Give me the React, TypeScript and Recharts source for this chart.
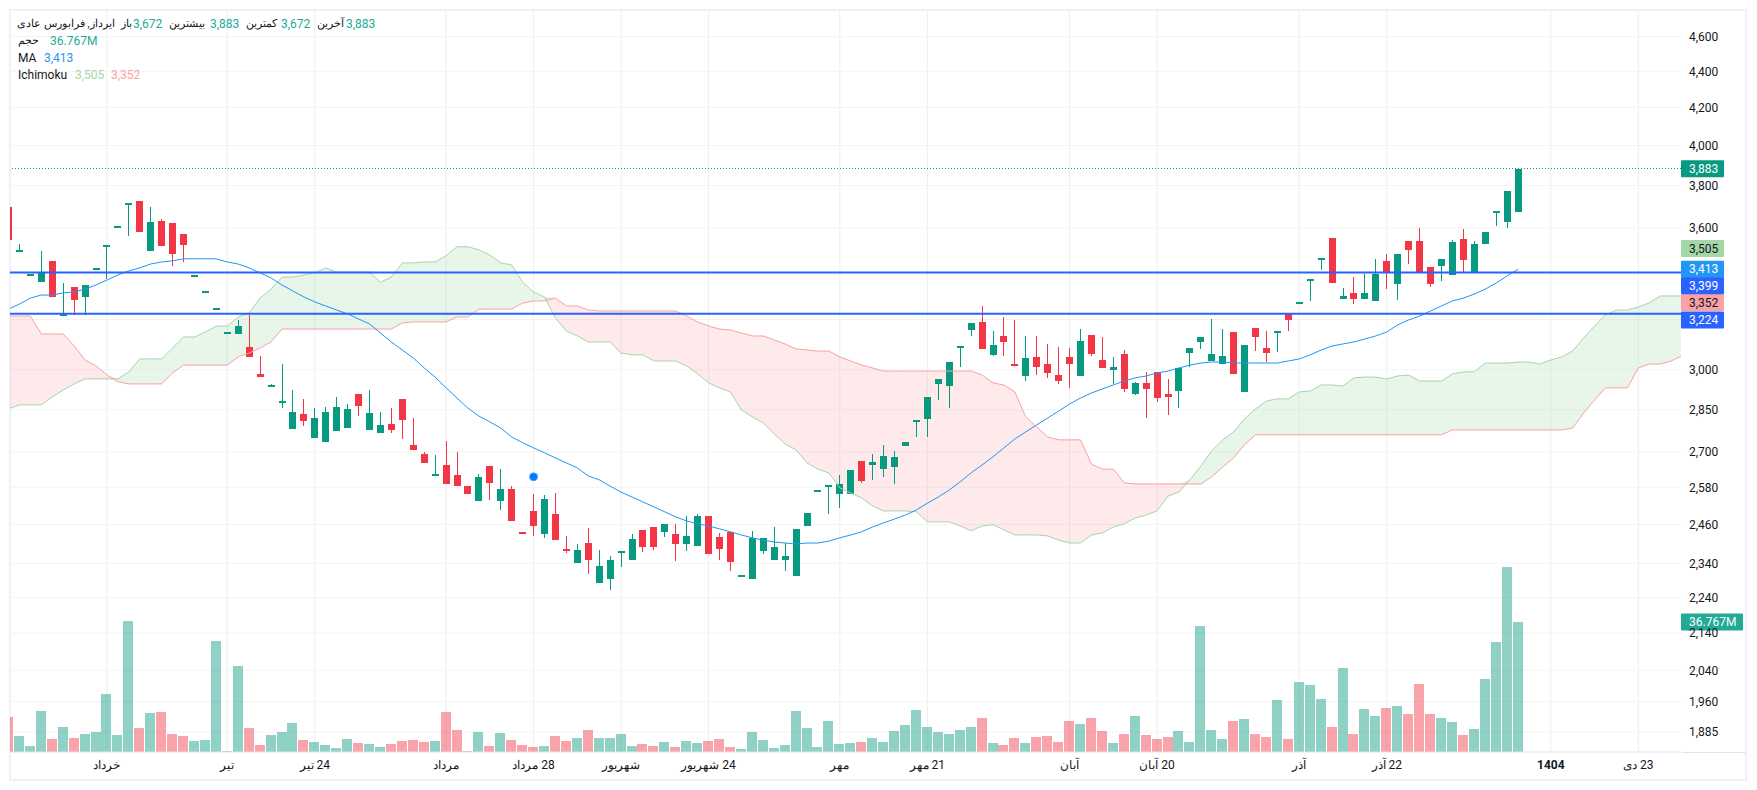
import { Area, Bar, CartesianGrid, ComposedChart, Line, ReferenceDot, ReferenceLine, XAxis, YAxis } from 'recharts';

const opens = [
  3696, 3497, 3392, 3359, 3450, 3219, 3336, 3295, 3416, 3519,
  3605, 3713, 3725, 3495, 3630, 3621, 3571, 3386, 3316, 3245,
  3147, 3141, 3089, 2984, 2940, 2880, 2781, 2835, 2749, 2735,
  2774, 2784, 2908, 2777, 2767, 2799, 2890, 2725, 2693, 2621,
  2655, 2621, 2584, 2535, 2651, 2535, 2575, 2437, 2503, 2430,
  2493, 2384, 2341, 2402, 2282, 2294, 2374, 2350, 2443, 2452,
  2437, 2430, 2399, 2393, 2487, 2421, 2437, 2304, 2294, 2378,
  2350, 2350, 2302, 2455, 2570, 2587, 2558, 2558, 2669, 2655,
  2641, 2648, 2721, 2811, 2817, 2946, 2938, 3091, 3157, 3190,
  3058, 3133, 3022, 2976, 3050, 3022, 2980, 3050, 2976, 3137,
  3038, 2999, 3061, 2908, 2950, 2992, 2908, 2919, 3065, 3109,
  3034, 3022, 3149, 2916, 3165, 3085, 3152, 3227, 3270, 3368,
  3461, 3553, 3285, 3311, 3285, 3277, 3450, 3349, 3539, 3539,
  3423, 3428, 3387, 3548, 3401, 3526, 3675, 3626, 3672,
];
const closes = [
  3544, 3499, 3394, 3398, 3295, 3221, 3281, 3345, 3418, 3521,
  3607, 3715, 3580, 3626, 3517, 3481, 3521, 3388, 3318, 3247,
  3149, 3173, 3050, 2972, 2942, 2882, 2842, 2809, 2820, 2842,
  2860, 2853, 2864, 2838, 2795, 2777, 2813, 2707, 2662, 2623,
  2591, 2584, 2558, 2615, 2595, 2575, 2471, 2430, 2455, 2541,
  2411, 2378, 2381, 2350, 2332, 2350, 2376, 2414, 2390, 2390,
  2462, 2399, 2424, 2487, 2369, 2384, 2344, 2306, 2418, 2418,
  2390, 2362, 2446, 2496, 2572, 2589, 2591, 2638, 2601, 2665,
  2686, 2683, 2735, 2813, 2897, 2965, 3030, 3093, 3186, 3081,
  3097, 3109, 3020, 3046, 3011, 2988, 2957, 3022, 3113, 3061,
  3007, 3011, 2927, 2950, 2927, 2893, 2897, 3007, 3085, 3129,
  3061, 3054, 2984, 3097, 3129, 3065, 3154, 3198, 3272, 3370,
  3463, 3353, 3298, 3285, 3311, 3392, 3397, 3481, 3499, 3401,
  3349, 3459, 3535, 3454, 3526, 3580, 3677, 3773, 3883,
];
const highs = [
  3696, 3526, 3394, 3495, 3450, 3352, 3336, 3345, 3418, 3521,
  3607, 3715, 3725, 3696, 3640, 3621, 3571, 3388, 3318, 3247,
  3149, 3198, 3219, 3054, 2946, 3022, 2923, 2890, 2856, 2860,
  2897, 2871, 2908, 2923, 2842, 2856, 2890, 2820, 2700, 2690,
  2739, 2700, 2584, 2625, 2651, 2641, 2584, 2437, 2558, 2555,
  2561, 2424, 2399, 2449, 2381, 2362, 2376, 2430, 2443, 2452,
  2462, 2462, 2487, 2493, 2487, 2433, 2437, 2306, 2440, 2418,
  2452, 2402, 2446, 2496, 2572, 2589, 2621, 2638, 2669, 2693,
  2725, 2704, 2735, 2813, 2897, 2965, 3030, 3093, 3186, 3256,
  3153, 3210, 3198, 3133, 3133, 3101, 3089, 3085, 3161, 3137,
  3129, 3050, 3077, 2954, 2992, 2992, 2965, 3007, 3085, 3129,
  3202, 3161, 3149, 3097, 3165, 3153, 3154, 3227, 3272, 3370,
  3463, 3553, 3332, 3379, 3392, 3459, 3481, 3481, 3539, 3598,
  3423, 3459, 3544, 3594, 3539, 3580, 3677, 3773, 3883,
];
const lows = [
  3544, 3497, 3392, 3359, 3295, 3219, 3219, 3219, 3416, 3372,
  3605, 3563, 3580, 3495, 3517, 3429, 3447, 3386, 3316, 3245,
  3147, 3141, 3050, 2972, 2940, 2856, 2781, 2791, 2749, 2735,
  2774, 2784, 2827, 2777, 2767, 2767, 2745, 2707, 2662, 2621,
  2591, 2584, 2558, 2535, 2538, 2506, 2471, 2430, 2424, 2418,
  2411, 2372, 2341, 2308, 2282, 2262, 2329, 2350, 2375, 2381,
  2421, 2347, 2378, 2393, 2369, 2350, 2317, 2304, 2294, 2369,
  2350, 2317, 2302, 2455, 2570, 2493, 2512, 2558, 2595, 2605,
  2615, 2591, 2721, 2752, 2752, 2886, 2856, 3011, 3133, 3081,
  3054, 3054, 3020, 2957, 2980, 2969, 2946, 2931, 2976, 3054,
  3007, 2946, 2916, 2905, 2820, 2878, 2831, 2856, 3011, 3081,
  3034, 3022, 2984, 2916, 3073, 3030, 3069, 3153, 3270, 3277,
  3410, 3353, 3285, 3264, 3285, 3277, 3327, 3281, 3436, 3401,
  3336, 3362, 3387, 3401, 3401, 3526, 3608, 3598, 3672,
];
// volume in millions
const volumes = [
  10.0, 4.6, 1.8, 11.7, 3.8, 7.2, 4.0, 5.2, 5.7, 16.5,
  4.9, 37.1, 6.9, 11.1, 11.4, 5.2, 4.6, 3.2, 3.5, 31.5,
  0.4, 24.4, 6.9, 2.1, 4.9, 5.7, 8.3, 3.5, 2.9, 2.1,
  1.2, 3.8, 2.6, 2.3, 1.5, 2.3, 3.2, 3.5, 2.9, 3.2,
  11.4, 6.3, 0.4, 5.7, 1.8, 5.5, 3.5, 2.1, 1.5, 1.8,
  4.6, 3.2, 4.0, 6.3, 4.0, 4.0, 5.1, 1.7, 2.3, 1.7,
  2.8, 1.4, 3.1, 2.5, 3.1, 3.7, 1.4, 0.8, 5.7, 3.4,
  1.1, 2.0, 11.6, 6.8, 1.4, 8.8, 2.3, 2.5, 2.8, 4.0,
  2.8, 5.9, 7.6, 11.9, 7.1, 5.7, 5.1, 6.2, 7.1, 9.6,
  2.5, 2.0, 4.0, 2.5, 4.2, 4.5, 2.8, 8.8, 7.9, 9.6,
  5.9, 2.5, 5.1, 10.2, 4.8, 3.7, 4.2, 5.9, 2.8, 35.6,
  6.2, 3.7, 8.8, 9.3, 5.1, 4.2, 14.7, 3.7, 19.8, 18.9,
  15.0, 7.1, 23.8, 5.1, 12.2, 10.2, 12.4, 13.0, 10.7, 19.2,
  10.7, 9.6, 8.5, 4.8, 6.5, 20.6, 31.1, 52.3, 36.767,
];
const maValues = [
  3243, 3264, 3289, 3302, 3302, 3311, 3315, 3327, 3345, 3366,
  3388, 3406, 3419, 3436, 3445, 3450, 3459, 3459, 3459, 3459,
  3445, 3436, 3419, 3397, 3375, 3345, 3319, 3294, 3273, 3256,
  3239, 3223, 3202, 3182, 3145, 3109, 3077, 3046, 3007, 2972,
  2931, 2893, 2856, 2827, 2806, 2784, 2752, 2732, 2714, 2697,
  2679, 2662, 2645, 2618, 2605, 2584, 2564, 2548, 2532, 2516,
  2500, 2484, 2471, 2462, 2455, 2446, 2437, 2427, 2418, 2411,
  2405, 2402, 2399, 2402, 2402, 2408, 2418, 2427, 2437, 2452,
  2465, 2477, 2490, 2506, 2528, 2548, 2571, 2598, 2628, 2655,
  2683, 2714, 2745, 2770, 2795, 2820, 2845, 2871, 2893, 2912,
  2927, 2942, 2957, 2969, 2976, 2988, 2995, 3007, 3018, 3026,
  3030, 3030, 3026, 3026, 3026, 3026, 3026, 3034, 3042, 3058,
  3077, 3093, 3101, 3109, 3121, 3133, 3149, 3178, 3198, 3214,
  3235, 3256, 3277, 3289, 3306, 3327, 3353, 3384, 3413,
];
const spanA = [
  2853, 2868, 2868, 2868, 2897, 2923, 2946, 2965, 2965, 2965,
  2965, 2992, 3042, 3042, 3042, 3085, 3129, 3129, 3149, 3173,
  3173, 3210, 3227, 3289, 3327, 3379, 3379, 3388, 3397, 3419,
  3401, 3401, 3401, 3401, 3357, 3379, 3441, 3441, 3445, 3445,
  3472, 3513, 3513, 3499, 3476, 3441, 3432, 3357, 3315, 3294,
  3206, 3153, 3133, 3109, 3109, 3109, 3065, 3058, 3058, 3034,
  3034, 3034, 3015, 2984, 2950, 2931, 2916, 2849, 2824, 2802,
  2763, 2728, 2707, 2662, 2641, 2628, 2578, 2561, 2545, 2519,
  2503, 2503, 2503, 2500, 2468, 2468, 2468, 2455, 2440, 2455,
  2459, 2443, 2427, 2427, 2427, 2424, 2411, 2402, 2402, 2427,
  2433, 2452, 2462, 2480, 2490, 2503, 2551, 2564, 2605, 2651,
  2704, 2742, 2770, 2817, 2853, 2882, 2890, 2890, 2916, 2919,
  2942, 2942, 2938, 2969, 2972, 2972, 2965, 2976, 2980, 2957,
  2957, 2957, 2984, 2992, 2992, 3026, 3026, 3026, 3030, 3030,
  3022, 3038, 3050, 3073, 3125, 3173, 3219, 3239, 3239, 3252,
  3269, 3298, 3298, 3298,
];
const spanB = [
  3214, 3214, 3214, 3141, 3141, 3141, 3093, 3038, 3015, 2980,
  2954, 2946, 2946, 2946, 2946, 2988, 3018, 3018, 3018, 3018,
  3018, 3050, 3065, 3085, 3109, 3161, 3161, 3161, 3161, 3161,
  3161, 3161, 3161, 3161, 3161, 3161, 3186, 3190, 3190, 3190,
  3190, 3210, 3210, 3243, 3243, 3243, 3243, 3268, 3277, 3277,
  3289, 3256, 3256, 3239, 3235, 3235, 3235, 3235, 3235, 3235,
  3235, 3235, 3214, 3190, 3173, 3161, 3157, 3145, 3133, 3133,
  3117, 3101, 3081, 3077, 3073, 3073, 3050, 3034, 3018, 3007,
  2995, 2995, 2995, 2995, 2995, 2995, 2995, 2995, 2995, 2980,
  2950, 2942, 2916, 2824, 2788, 2752, 2742, 2742, 2742, 2658,
  2641, 2641, 2595, 2591, 2591, 2591, 2591, 2591, 2591, 2591,
  2615, 2648, 2679, 2725, 2760, 2760, 2760, 2760, 2760, 2760,
  2760, 2760, 2760, 2760, 2760, 2760, 2760, 2760, 2760, 2760,
  2760, 2760, 2777, 2777, 2777, 2777, 2777, 2777, 2777, 2777,
  2777, 2777, 2777, 2784, 2838, 2886, 2931, 2931, 2931, 3007,
  3022, 3022, 3034, 3054,
];

const priceTicks = [4600, 4400, 4200, 4000, 3800, 3600, 3400, 3200, 3000, 2850, 2700, 2580, 2460, 2340, 2240, 2140, 2040, 1960, 1885];
const coveredTicks = [3400, 3200]; // sit behind the price tags, only the grid line shows
const timeTicks = [9, 20, 28, 40, 48, 56, 64, 76, 84, 97, 105, 118, 126, 141, 149];
const timeLabels = ['خرداد', 'تیر', '24 تیر', 'مرداد', '28 مرداد', 'شهریور', '24 شهریور', 'مهر', '21 مهر', 'آبان', '20 آبان', 'آذر', '22 آذر', '1404', '23 دی'];

const UP = '#089981';
const DOWN = '#F23645';
const FONT = 'Roboto, sans-serif';
const X_DOMAIN = [0.135, 152.9];

const chartData = spanA.map((a, i) => {
  const b = spanB[i];
  const row: any = {
    i,
    a,
    b,
    greenCloud: [b, Math.max(a, b)],
    redCloud: [a, Math.max(a, b)],
  };
  if (i < opens.length) {
    row.ma = maValues[i];
    row.volume = volumes[i];
    row.wick = [lows[i], highs[i]];
    row.body = [Math.min(opens[i], closes[i]), Math.max(opens[i], closes[i])];
    row.up = closes[i] >= opens[i];
  }
  return row;
});

function CandlePart({ x, y, width, height, payload, minHeight }: any) {
  if (!payload || payload.up === undefined) return null;
  const h = Math.max(Math.abs(height), minHeight);
  return <rect x={x} y={Math.min(y, y + height)} width={width} height={h} fill={payload.up ? UP : DOWN} shapeRendering="crispEdges" />;
}

function VolumeBar({ x, y, width, height, payload }: any) {
  if (!payload || payload.up === undefined) return null;
  return <rect x={x} y={y} width={width} height={height} fill={payload.up ? UP : DOWN} fillOpacity={0.45} shapeRendering="crispEdges" />;
}

function TimeTick({ x, y, payload }: any) {
  const label = timeLabels[timeTicks.indexOf(payload.value)];
  return (
    <text x={x} y={y} dy={3} textAnchor="middle" direction="rtl" fill="#131722" fontSize={12} fontFamily={FONT} fontWeight={label === '1404' ? 700 : 400}>
      {label}
    </text>
  );
}

// price tags on the right axis, shifted by dy when they would overlap
const tag = (text: string, fill: string, color: string, dy = 0, width = 43) => ({ viewBox }: any) => {
  const left = viewBox.x + viewBox.width;
  const mid = viewBox.y + dy;
  return (
    <g>
      <rect x={left} y={mid - 8.5} width={width} height={17} rx={1} fill={fill} />
      <text x={left + 8} y={mid + 4} fill={color} fontSize={12} fontFamily={FONT}>{text}</text>
    </g>
  );
};

function LegendText({ left, top, color, size = 12, children }: any) {
  return (
    <span style={{ position: 'absolute', left, top, color, fontSize: size, lineHeight: '14px', fontFamily: FONT, whiteSpace: 'nowrap' }}>
      {children}
    </span>
  );
}

function ChartLegend() {
  return (
    <>
      <LegendText left={17} top={17} size={11} color="#131722">ایرداز, فرابورس عادی</LegendText>
      <LegendText left={121} top={17} size={11} color="#131722">باز</LegendText>
      <LegendText left={133} top={17} color="#22ab94">3,672</LegendText>
      <LegendText left={169} top={17} size={11} color="#131722">بیشترین</LegendText>
      <LegendText left={210} top={17} color="#22ab94">3,883</LegendText>
      <LegendText left={246} top={17} size={11} color="#131722">کمترین</LegendText>
      <LegendText left={281} top={17} color="#22ab94">3,672</LegendText>
      <LegendText left={317} top={17} size={11} color="#131722">آخرین</LegendText>
      <LegendText left={346} top={17} color="#22ab94">3,883</LegendText>
      <LegendText left={18} top={34} size={11} color="#131722">حجم</LegendText>
      <LegendText left={50} top={34} color="#22ab94">36.767M</LegendText>
      <LegendText left={18} top={51} color="#131722">MA</LegendText>
      <LegendText left={44} top={51} color="#2196f3">3,413</LegendText>
      <LegendText left={18} top={68} color="#131722">Ichimoku</LegendText>
      <LegendText left={75} top={68} color="#a5d6a7">3,505</LegendText>
      <LegendText left={111} top={68} color="#faa1a4">3,352</LegendText>
    </>
  );
}

export default function App() {
  return (
    <div style={{ position: 'absolute', left: 0, top: 0, width: 1757, height: 790, background: '#fff', overflow: 'hidden' }}>
      <div style={{ position: 'absolute', left: 9, top: 9, width: 1738, height: 772, boxSizing: 'border-box', border: '2px solid #f0f1f5' }} />
      <div style={{ position: 'absolute', left: 1682, top: 752, width: 64, height: 1, background: '#e0e3eb' }} />
      <div style={{ position: 'absolute', left: 0, top: 0 }}>
        <ComposedChart width={1757} height={790} data={chartData} margin={{ top: 11, right: 0, bottom: 0, left: 10 }} barGap={0}>
          <XAxis
            xAxisId="x"
            type="number"
            dataKey="i"
            domain={X_DOMAIN}
            allowDataOverflow
            ticks={timeTicks}
            interval={0}
            height={38}
            tick={<TimeTick />}
            tickLine={false}
            axisLine={{ stroke: '#e0e3eb' }}
            tickMargin={8}
          />
          <XAxis xAxisId="w" type="number" dataKey="i" domain={X_DOMAIN} allowDataOverflow hide height={0} />
          <XAxis xAxisId="v" type="number" dataKey="i" domain={X_DOMAIN} allowDataOverflow hide height={0} />
          <YAxis
            yAxisId="p"
            orientation="right"
            scale="log"
            domain={[1837, 4754]}
            allowDataOverflow
            ticks={priceTicks}
            interval={0}
            width={76}
            tickLine={false}
            axisLine={false}
            tickSize={0}
            tickMargin={8}
            tickFormatter={(v: number) => (coveredTicks.includes(v) ? '' : v.toLocaleString('en-US'))}
            tick={{ fill: '#131722', fontSize: 12, fontFamily: FONT }}
          />
          <YAxis yAxisId="v" domain={[0, 209.6]} allowDataOverflow hide />
          <CartesianGrid xAxisId="x" yAxisId="p" horizontal={false} syncWithTicks stroke="#eceef2" />
          <CartesianGrid xAxisId="x" yAxisId="p" vertical={false} syncWithTicks stroke="#f3f4f6" />

          <Bar xAxisId="v" yAxisId="v" dataKey="volume" barSize={10} isAnimationActive={false} shape={<VolumeBar />} />
          <Area xAxisId="x" yAxisId="p" dataKey="greenCloud" stroke="none" fill="#a5d6a7" fillOpacity={0.25} dot={false} activeDot={false} isAnimationActive={false} />
          <Area xAxisId="x" yAxisId="p" dataKey="redCloud" stroke="none" fill="#faa1a4" fillOpacity={0.22} dot={false} activeDot={false} isAnimationActive={false} />
          <Line xAxisId="x" yAxisId="p" dataKey="a" stroke="#a5d6a7" strokeWidth={1} dot={false} activeDot={false} isAnimationActive={false} />
          <Line xAxisId="x" yAxisId="p" dataKey="b" stroke="#faa1a4" strokeWidth={1} dot={false} activeDot={false} isAnimationActive={false} />
          <Line xAxisId="x" yAxisId="p" dataKey="ma" stroke="#2196f3" strokeWidth={1} dot={false} activeDot={false} isAnimationActive={false} />
          <Bar xAxisId="w" yAxisId="p" dataKey="wick" barSize={1} isAnimationActive={false} shape={<CandlePart minHeight={0} />} />
          <Bar xAxisId="x" yAxisId="p" dataKey="body" barSize={7} isAnimationActive={false} shape={<CandlePart minHeight={2} />} />

          <ReferenceDot xAxisId="x" yAxisId="p" x={48} y={2615} r={4} fill="#007bff" stroke="#4da3ff" strokeWidth={1} />
          <ReferenceLine xAxisId="x" yAxisId="p" y={3883} stroke={UP} strokeDasharray="1 2" shapeRendering="crispEdges" label={tag('3,883', UP, '#fff')} />
          <ReferenceLine xAxisId="x" yAxisId="p" y={3505} stroke="none" label={tag('3,505', '#a5d6a7', '#131722')} />
          <ReferenceLine xAxisId="x" yAxisId="p" y={3352} stroke="none" label={tag('3,352', '#faa1a4', '#131722', 19.3)} />
          <ReferenceLine xAxisId="x" yAxisId="p" y={3413} stroke="none" label={tag('3,413', '#2196f3', '#fff')} />
          <ReferenceLine xAxisId="x" yAxisId="p" y={3399} stroke="#2962ff" strokeWidth={2} label={tag('3,399', '#2962ff', '#fff', 13.4)} />
          <ReferenceLine xAxisId="x" yAxisId="p" y={3224} stroke="#2962ff" strokeWidth={2} label={tag('3,224', '#2962ff', '#fff', 6.4)} />
          <ReferenceLine xAxisId="x" yAxisId="v" y={36.767} stroke="none" label={tag('36.767M', '#22ab94', '#fff', 0, 62)} />
        </ComposedChart>
      </div>
      <ChartLegend />
    </div>
  );
}
